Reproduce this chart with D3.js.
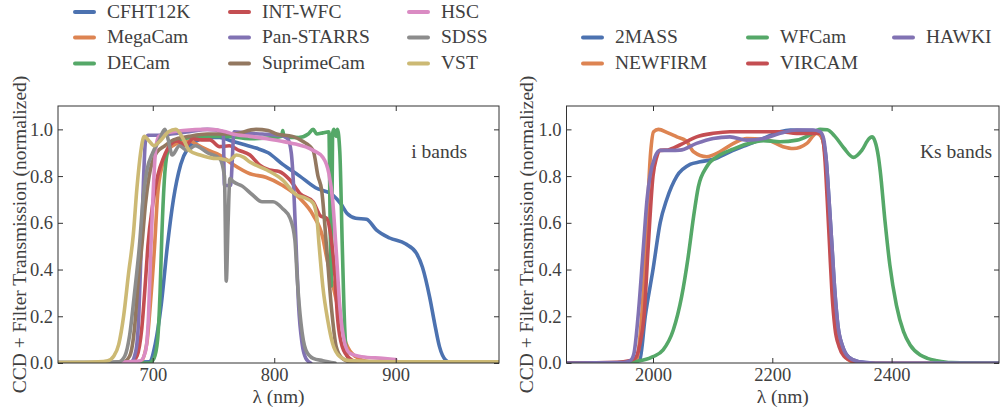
<!DOCTYPE html>
<html><head><meta charset="utf-8">
<script src="https://cdn.jsdelivr.net/npm/d3@7"></script>
<style>
body{margin:0;background:#fff}
svg{display:block}
svg text{font-family:"Liberation Serif" !important;}
</style>
</head><body>
<svg id="chart" width="1000" height="411"></svg>
<script>
// ---------------- DATA ----------------
const iBandNames = ["CFHT12K","MegaCam","DECam","INT-WFC","Pan-STARRS","SuprimeCam","HSC","SDSS","VST"];
const ksBandNames = ["2MASS","NEWFIRM","WFCam","VIRCAM","HAWKI"];
const iColors = ["#4C72B0","#DD8452","#55A868","#C44E52","#8172B3","#937860","#DA8BC3","#8C8C8C","#CCB974"];
const ksColors = ["#4C72B0","#DD8452","#55A868","#C44E52","#8172B3"];
const iTicks = [700,800,900];
const ksTicks = [2000,2200,2400];
const yTicks = [0,0.2,0.4,0.6,0.8,1.0];
const iDomain = [622,985];
const ksDomain = [1855,2580];
const yDomain = [0,1.1];

// i bands: [wavelength nm, transmission]
const cfht12k = [[660,0],[697,0.005],[702,0.08],[707,0.25],[712,0.5],[717,0.7],[723,0.85],[729,0.92],[736,0.95],[745,0.965],[755,0.965],[765,0.95],[775,0.935],[785,0.92],[795,0.9],[807,0.85],[821,0.80],[834,0.75],[848,0.72],[855,0.68],[860,0.64],[867,0.62],[876,0.615],[884,0.57],[895,0.535],[908,0.51],[917,0.47],[922,0.41],[928,0.28],[932,0.17],[936,0.07],[941,0.013],[946,0],[985,0]];
const megacam = [[660,0],[690,0.005],[695,0.08],[698,0.25],[701.5,0.5],[704,0.72],[708,0.85],[713,0.91],[720,0.94],[730,0.95],[738,0.93],[746,0.91],[755,0.89],[766,0.85],[780,0.81],[793,0.795],[807,0.76],[821,0.705],[832,0.633],[840,0.535],[843,0.455],[848,0.34],[854,0.2],[859,0.085],[867,0.027],[878,0.005],[890,0]];
const decam = [[660,0],[697,0],[701,0.02],[704,0.1],[706,0.3],[707.5,0.55],[709.5,0.78],[712,0.9],[716,0.95],[725,0.96],[740,0.97],[760,0.97],[780,0.96],[800,0.965],[806,0.97],[807,0.995],[808,0.97],[820,0.965],[828,0.98],[832,1.0],[835,0.98],[840,0.985],[845,0.99],[846,0.6],[847,0.33],[848,0.98],[849,1.0],[851,0.97],[852,1.0],[854,0.9],[856,0.5],[858,0.15],[860,0.03],[865,0]];
const intwfc = [[660,0],[683,0.005],[687,0.03],[691,0.15],[694,0.35],[696,0.5],[700,0.68],[704,0.8],[709,0.88],[714,0.93],[720,0.95],[727,0.93],[733,0.96],[740,0.955],[747,0.955],[755,0.926],[763,0.93],[771,0.91],[780,0.89],[788,0.847],[796,0.826],[804,0.82],[813,0.783],[821,0.726],[832,0.69],[838,0.63],[843,0.62],[847,0.526],[850,0.37],[852,0.2],[856,0.07],[862,0.02],[870,0]];
const panstarrs = [[660,0],[682,0.005],[686,0.05],[688.5,0.2],[690.5,0.5],[692.5,0.8],[694,0.95],[696,0.975],[705,0.975],[715,0.98],[730,0.99],[745,1.0],[758,0.99],[759,0.76],[764,0.76],[767,0.99],[775,0.985],[790,0.98],[805,0.975],[811,0.96],[814,0.9],[816,0.75],[818,0.5],[820,0.25],[823,0.08],[826,0.02],[830,0]];
const suprimecam = [[660,0],[676,0.005],[681,0.03],[685,0.15],[688,0.35],[691,0.5],[694,0.68],[697,0.8],[703,0.9],[710,0.93],[717,0.955],[730,0.97],[745,0.98],[766,0.98],[785,1.0],[795,0.995],[802,0.98],[815,0.97],[823,0.95],[832,0.91],[836,0.8],[839,0.74],[843,0.5],[847,0.24],[851,0.07],[856,0.02],[865,0]];
const hsc = [[660,0],[680,0.005],[690,0.01],[694,0.05],[696.5,0.2],[698.5,0.5],[700.5,0.75],[702.5,0.92],[705,0.97],[712,0.985],[725,0.995],[745,1.0],[760,0.99],[766,0.98],[780,0.97],[794,0.96],[805,0.95],[815,0.94],[832,0.91],[840,0.88],[845,0.81],[848,0.7],[851,0.48],[854,0.24],[858,0.085],[862,0.043],[872,0.027],[889,0.02],[900,0.015]];
const sdss = [[622,0.003],[660,0.003],[672,0.005],[677,0.03],[681,0.12],[685,0.3],[689,0.5],[692,0.7],[695,0.82],[700,0.9],[705,0.95],[710,1.0],[713,0.95],[716,0.89],[722,0.93],[728,0.91],[735,0.93],[745,0.9],[755,0.876],[759,0.8],[760.5,0.35],[762,0.6],[763.5,0.79],[766,0.777],[774,0.756],[782,0.72],[790,0.69],[799,0.69],[807,0.66],[813,0.62],[817,0.526],[819,0.355],[822,0.17],[826,0.056],[832,0.02],[840,0.01],[850,0]];
const vst = [[622,0.002],[640,0.003],[655,0.005],[663,0.01],[668,0.03],[672,0.08],[676,0.2],[680,0.38],[684,0.55],[687,0.75],[690,0.9],[693,0.97],[697,0.95],[701,0.93],[706,0.95],[713,0.99],[719,1.0],[725,0.96],[730,0.91],[739,0.89],[750,0.876],[755,0.875],[763,0.867],[769,0.89],[775,0.88],[780,0.86],[794,0.826],[807,0.783],[818,0.72],[826,0.705],[832,0.684],[835,0.626],[837,0.5],[840,0.327],[844,0.184],[848,0.084],[854,0.027],[862,0.01],[900,0.005],[985,0.005]];

// Ks bands
const twomass = [[1855,0],[1950,0],[1970,0.005],[1978,0.015],[1987,0.2],[2000,0.4],[2012,0.6],[2023,0.7],[2040,0.8],[2062,0.85],[2079,0.861],[2101,0.872],[2129,0.904],[2157,0.933],[2185,0.961],[2213,0.99],[2230,0.997],[2270,0.995],[2282,0.97],[2290,0.88],[2295,0.7],[2300,0.5],[2305,0.3],[2310,0.16],[2318,0.07],[2328,0.025],[2345,0.005],[2370,0]];
const newfirm = [[1855,0],[1950,0],[1966,0.005],[1973,0.02],[1981,0.2],[1988,0.5],[1996,0.9],[2001,0.99],[2009,1.0],[2025,0.985],[2040,0.968],[2056,0.95],[2068,0.904],[2090,0.883],[2112,0.904],[2135,0.94],[2157,0.961],[2191,0.955],[2218,0.926],[2235,0.918],[2258,0.94],[2274,0.983],[2282,0.97],[2290,0.85],[2295,0.65],[2300,0.45],[2306,0.22],[2312,0.1],[2320,0.04],[2330,0.01],[2345,0],[2580,0]];
const wfcam = [[1855,0],[1930,0],[1967,0.005],[2000,0.027],[2017,0.056],[2034,0.141],[2048,0.284],[2059,0.455],[2068,0.626],[2076,0.754],[2090,0.84],[2112,0.89],[2134,0.915],[2157,0.937],[2185,0.952],[2213,0.947],[2241,0.954],[2262,0.975],[2280,1.0],[2292,0.998],[2305,0.97],[2320,0.92],[2336,0.88],[2350,0.91],[2362,0.96],[2367,0.968],[2372,0.95],[2378,0.88],[2381,0.82],[2389,0.605],[2397,0.42],[2408,0.248],[2420,0.134],[2431,0.077],[2448,0.034],[2460,0.02],[2476,0.01],[2500,0.002],[2580,0]];
const vircam = [[1855,0],[1940,0.003],[1960,0.01],[1970,0.02],[1978,0.08],[1985,0.2],[1992,0.5],[2000,0.8],[2006,0.88],[2012,0.91],[2025,0.912],[2045,0.933],[2073,0.968],[2101,0.983],[2129,0.99],[2157,0.99],[2185,0.99],[2213,0.99],[2241,0.983],[2268,0.983],[2280,0.985],[2284,0.97],[2288,0.88],[2292,0.7],[2296,0.5],[2300,0.3],[2305,0.15],[2312,0.07],[2320,0.03],[2335,0.008],[2355,0]];
const hawki = [[1855,0],[1950,0.002],[1962,0.01],[1968,0.04],[1975,0.2],[1984,0.5],[1990,0.7],[1995,0.8],[2003,0.88],[2012,0.91],[2030,0.91],[2045,0.911],[2073,0.94],[2101,0.961],[2129,0.968],[2157,0.954],[2185,0.961],[2213,0.983],[2241,0.997],[2268,0.997],[2280,0.99],[2286,0.96],[2290,0.88],[2295,0.7],[2300,0.5],[2305,0.3],[2310,0.16],[2318,0.07],[2328,0.025],[2345,0.005],[2370,0],[2580,0]];

const iCurves = [cfht12k, megacam, decam, intwfc, panstarrs, suprimecam, hsc, sdss, vst];
const ksCurves = [twomass, newfirm, wfcam, vircam, hawki];

// ---------------- LAYOUT ----------------
const svg = d3.select("#chart");
const textColor = "#404040";

const panels = [
  {names:iBandNames, colors:iColors, curves:iCurves, domain:iDomain, ticks:iTicks, left:58, right:499, label:"i bands", labelX:467,
   ylabX:26, legend:{x:[75,230,409], y:[12,37.5,63.5], textOff:32}},
  {names:ksBandNames, colors:ksColors, curves:ksCurves, domain:ksDomain, ticks:ksTicks, left:566.5, right:999, label:"Ks bands", labelX:992,
   ylabX:533, legend:{x:[583,748,894], y:[37.5,63.5], textOff:32}}
];
const plotTop = 106, plotBottom = 363;

panels.forEach((p, pi) => {
  const x = d3.scaleLinear().domain(p.domain).range([p.left, p.right]);
  const y = d3.scaleLinear().domain(yDomain).range([plotBottom, plotTop]);
  const g = svg.append("g").attr("font-family", "Liberation Serif");

  const clipId = "clip" + pi;
  svg.append("clipPath").attr("id", clipId).append("rect")
    .attr("x", p.left).attr("y", plotTop).attr("width", p.right - p.left).attr("height", plotBottom - plotTop);

  const line = d3.line().x(d => x(d[0])).y(d => y(d[1])).curve(d3.curveMonotoneX);
  g.append("g").attr("clip-path", `url(#${clipId})`)
    .selectAll("path").data(p.curves).join("path")
    .attr("d", line).attr("fill", "none")
    .attr("stroke", (d, i) => p.colors[i]).attr("stroke-width", 3.6)
    .attr("stroke-linejoin", "round").attr("stroke-linecap", "round");

  const axB = g.append("g").attr("transform", `translate(0,${plotBottom})`)
    .call(d3.axisBottom(x).tickValues(p.ticks).tickSize(-5).tickPadding(5).tickFormat(d3.format("d")));
  const axT = g.append("g").attr("transform", `translate(0,${plotTop})`)
    .call(d3.axisTop(x).tickValues(p.ticks).tickSize(-5).tickFormat(""));
  const axL = g.append("g").attr("transform", `translate(${p.left},0)`)
    .call(d3.axisLeft(y).tickValues(yTicks).tickSize(-5).tickPadding(5).tickFormat(d3.format(".1f")));
  const axR = g.append("g").attr("transform", `translate(${p.right},0)`)
    .call(d3.axisRight(y).tickValues(yTicks).tickSize(-5).tickFormat(""));
  [axB, axT, axL, axR].forEach(a => {
    a.attr("font-family", "Liberation Serif").attr("font-size", null);
    a.select(".domain").remove();
    a.selectAll(".tick line").attr("stroke", "#333").attr("stroke-width", 1);
    a.selectAll(".tick text").attr("fill", textColor).style("font-size", "18.5px");
  });

  g.append("rect").attr("x", p.left).attr("y", plotTop).attr("width", p.right - p.left).attr("height", plotBottom - plotTop)
    .attr("fill", "none").attr("stroke", "#333").attr("stroke-width", 1);

  g.append("text").attr("x", (p.left + p.right) / 2).attr("y", 403).attr("text-anchor", "middle")
    .attr("fill", textColor).style("font-size", "19.5px").text("λ (nm)");
  g.append("text").attr("transform", `translate(${p.ylabX},${(plotTop + plotBottom) / 2}) rotate(-90)`)
    .attr("text-anchor", "middle").attr("fill", textColor).style("font-size", "19.5px")
    .text("CCD + Filter Transmission (normalized)");

  g.append("text").attr("x", p.labelX).attr("y", 158).attr("text-anchor", "end")
    .attr("fill", textColor).style("font-size", "19.5px").text(p.label);

  const nrows = p.legend.y.length;
  p.names.forEach((name, i) => {
    const col = Math.floor(i / nrows), row = i % nrows;
    const lx = p.legend.x[col], ly = p.legend.y[row];
    g.append("line").attr("x1", lx).attr("x2", lx + 19).attr("y1", ly).attr("y2", ly)
      .attr("stroke", p.colors[i]).attr("stroke-width", 4).attr("stroke-linecap", "round");
    g.append("text").attr("x", lx + p.legend.textOff).attr("y", ly + 5.5)
      .attr("fill", textColor).style("font-size", "19.5px").text(name);
  });
});
</script>
</body></html>
